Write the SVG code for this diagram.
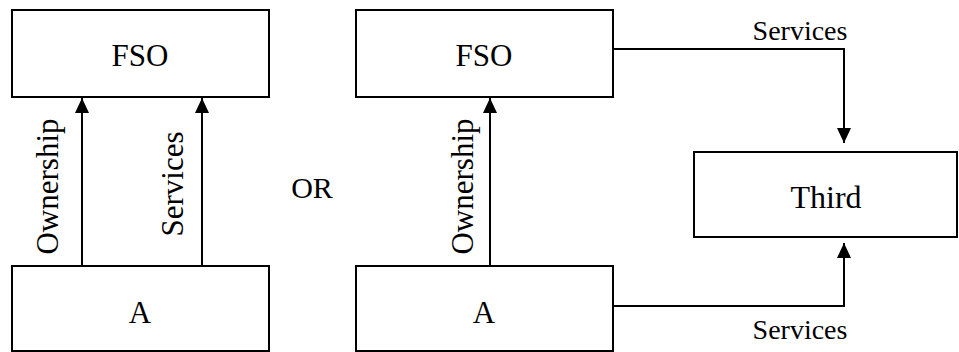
<svg xmlns="http://www.w3.org/2000/svg" width="959" height="352" viewBox="0 0 959 352">
<style>
.box{fill:#fff;stroke:#000;stroke-width:2}
.lbl{fill:#000;text-anchor:middle}
.conn{fill:none;stroke:#000;stroke-width:2}
</style>
<defs>
<marker id="arr" markerUnits="userSpaceOnUse" markerWidth="16" markerHeight="14" refX="15" refY="7" orient="auto">
<path d="M0,0 L15,7 L0,14 z" fill="#000"/>
</marker>
</defs>
<rect width="959" height="352" fill="#fff"/>
<g id="connectors" font-family="Liberation Serif, DejaVu Serif, serif">
<line class="conn" x1="82" y1="266" x2="82" y2="98" marker-end="url(#arr)"/>
<line class="conn" x1="202" y1="266" x2="202" y2="98" marker-end="url(#arr)"/>
<line class="conn" x1="490" y1="266" x2="490" y2="98" marker-end="url(#arr)"/>
<polyline class="conn" points="613,49 844,49 844,143" marker-end="url(#arr)"/>
<polyline class="conn" points="613,306 844,306 844,243" marker-end="url(#arr)"/>
<text class="lbl" font-family="Liberation Serif, DejaVu Serif, serif" font-size="31" transform="translate(58,186.5) rotate(-90)">Ownership</text>
<text class="lbl" font-family="Liberation Serif, DejaVu Serif, serif" font-size="31" transform="translate(183,184) rotate(-90)">Services</text>
<text class="lbl" font-family="Liberation Serif, DejaVu Serif, serif" font-size="31" transform="translate(473,186.5) rotate(-90)">Ownership</text>
<text class="lbl" font-family="Liberation Serif, DejaVu Serif, serif" font-size="28" x="800" y="40">Services</text>
<text class="lbl" font-family="Liberation Serif, DejaVu Serif, serif" font-size="28" x="800" y="339">Services</text>
</g>
<g id="fso1" font-family="Liberation Serif, DejaVu Serif, serif"><rect class="box" x="12" y="10" width="257" height="87"/><text class="lbl" font-size="31" x="140" y="66">FSO</text></g>
<g id="a1" font-family="Liberation Serif, DejaVu Serif, serif"><rect class="box" x="12" y="266" width="257" height="85"/><text class="lbl" font-size="31" x="140" y="323">A</text></g>
<g id="or" font-family="Liberation Serif, DejaVu Serif, serif"><text class="lbl" font-size="30" x="312" y="198">OR</text></g>
<g id="fso2" font-family="Liberation Serif, DejaVu Serif, serif"><rect class="box" x="356" y="10" width="257" height="87"/><text class="lbl" font-size="31" x="484" y="66">FSO</text></g>
<g id="a2" font-family="Liberation Serif, DejaVu Serif, serif"><rect class="box" x="356" y="266" width="257" height="85"/><text class="lbl" font-size="31" x="484" y="323">A</text></g>
<g id="third" font-family="Liberation Serif, DejaVu Serif, serif"><rect class="box" x="694" y="152" width="263" height="85"/><text class="lbl" font-size="32" x="826" y="208">Third</text></g>
</svg>
